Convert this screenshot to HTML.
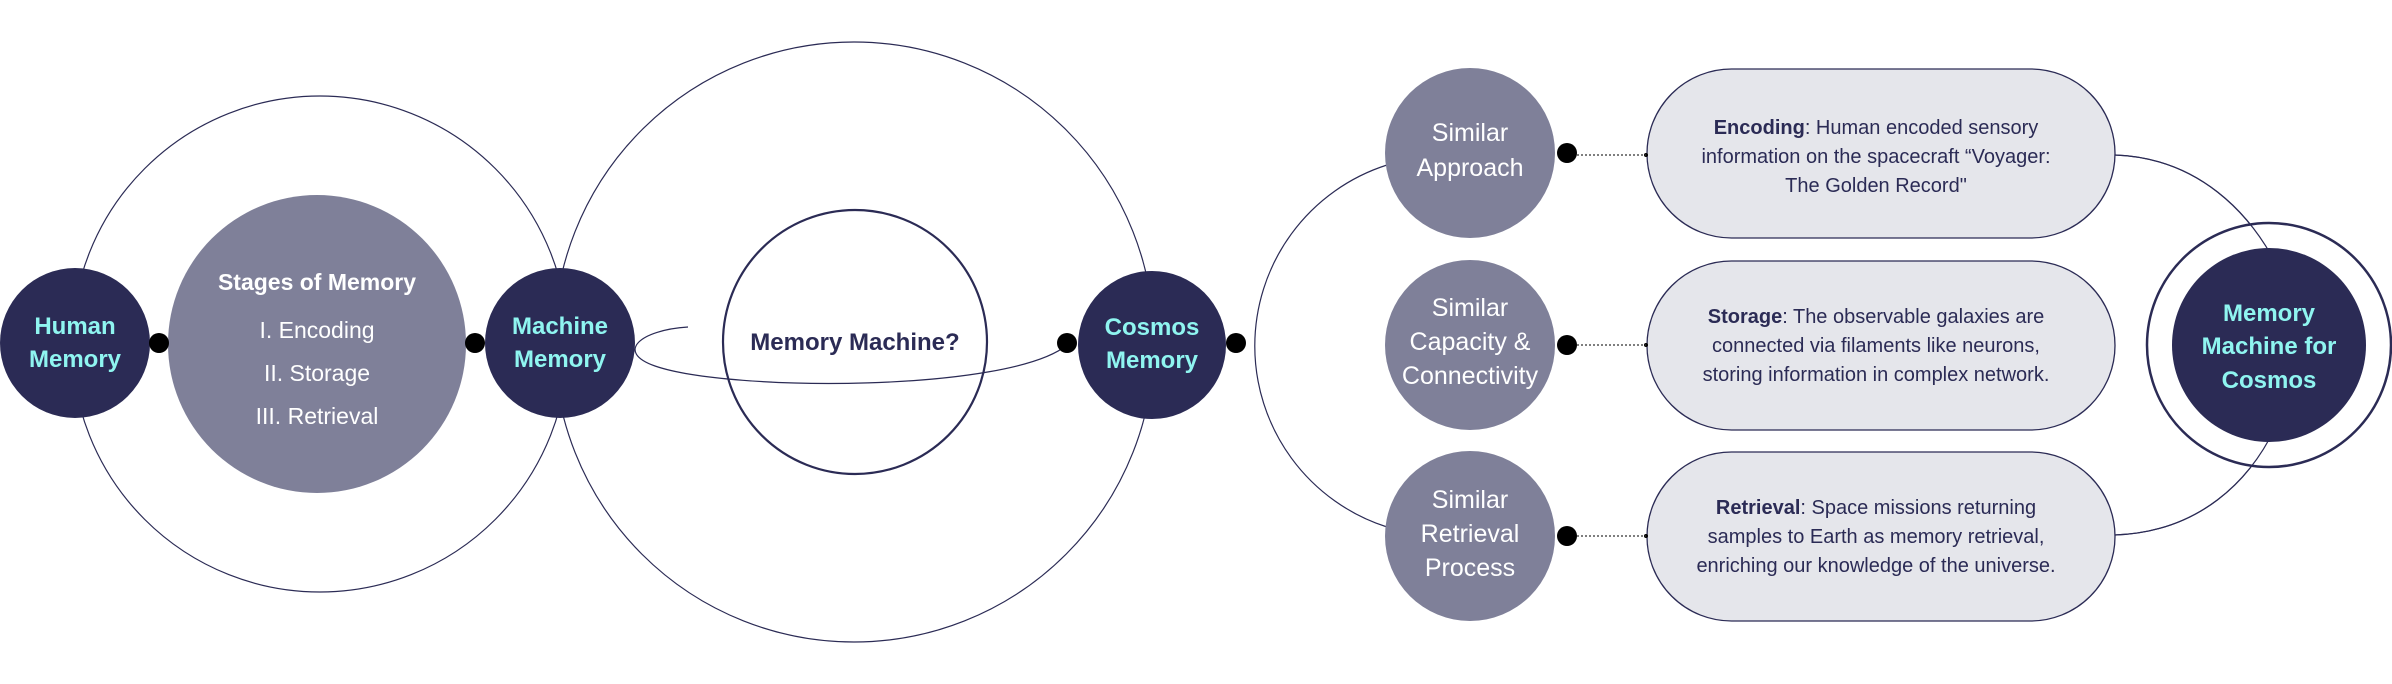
<!DOCTYPE html>
<html><head><meta charset="utf-8"><style>
html,body{margin:0;padding:0;background:#fff;}
svg{display:block;}
text{font-family:"Liberation Sans Narrow","Liberation Sans",sans-serif;}
</style></head><body>
<svg width="2392" height="684" viewBox="0 0 2392 684" xmlns="http://www.w3.org/2000/svg">
<g fill="none" stroke="#2b2b55" stroke-width="1.2">
<circle cx="320" cy="344" r="248"/>
<circle cx="854" cy="342" r="300"/>
<path d="M1387,165 A190,190 0 0 0 1387,527"/>
<path d="M688,327 C640,330 615,352 655,366 C730,392 1010,392 1067,345"/>
<path d="M2115,155 C2200,158 2250,215 2275,262"/>
<path d="M2115,535 C2200,532 2250,480 2275,428"/>
</g>
<circle cx="855" cy="342" r="132" fill="none" stroke="#2b2b55" stroke-width="2.2"/>
<circle cx="2269" cy="345" r="122" fill="#fff" stroke="#2b2b55" stroke-width="2.5"/>
<path d="M2115,155 C2200,158 2250,215 2275,262" fill="none" stroke="#2b2b55" stroke-width="1.2"/>
<path d="M2115,535 C2200,532 2250,480 2275,428" fill="none" stroke="#2b2b55" stroke-width="1.2"/>
<circle cx="317" cy="344" r="149" fill="#7f8099"/>
<g fill="#2b2b55">
<circle cx="75" cy="343" r="75"/>
<circle cx="560" cy="343" r="75"/>
<circle cx="1152" cy="345" r="74"/>
<circle cx="2269" cy="345" r="97"/>
</g>
<g fill="#7f8099">
<circle cx="1470" cy="153" r="85"/>
<circle cx="1470" cy="345" r="85"/>
<circle cx="1470" cy="536" r="85"/>
</g>
<g fill="#e5e6eb" stroke="#2b2b55" stroke-width="1.3">
<rect x="1647" y="69" width="468" height="169" rx="84.5"/>
<rect x="1647" y="261" width="468" height="169" rx="84.5"/>
<rect x="1647" y="452" width="468" height="169" rx="84.5"/>
</g>
<g fill="#000">
<circle cx="159" cy="343" r="10"/>
<circle cx="475" cy="343" r="10"/>
<circle cx="1067" cy="343" r="10"/>
<circle cx="1236" cy="343" r="10"/>
<circle cx="1567" cy="153" r="10"/>
<circle cx="1567" cy="345" r="10"/>
<circle cx="1567" cy="536" r="10"/>
<circle cx="1646" cy="155" r="2"/>
<circle cx="1646" cy="345" r="2"/>
<circle cx="1646" cy="536" r="2"/>
</g>
<g stroke="#333" stroke-width="1.2" stroke-dasharray="2,2">
<line x1="1577" y1="155" x2="1646" y2="155"/>
<line x1="1577" y1="345" x2="1646" y2="345"/>
<line x1="1577" y1="536" x2="1646" y2="536"/>
</g>
<g text-anchor="middle" font-size="24" font-weight="bold" fill="#8ff5f0">
<text x="75" y="334">Human</text><text x="75" y="367">Memory</text>
<text x="560" y="334">Machine</text><text x="560" y="367">Memory</text>
<text x="1152" y="335">Cosmos</text><text x="1152" y="368">Memory</text>
<text x="2269" y="321">Memory</text><text x="2269" y="354">Machine for</text><text x="2269" y="388">Cosmos</text>
</g>
<g text-anchor="middle" fill="#fff">
<text x="317" y="290" font-size="23" font-weight="bold">Stages of Memory</text>
<text x="317" y="338" font-size="23">I. Encoding</text>
<text x="317" y="381" font-size="23">II. Storage</text>
<text x="317" y="424" font-size="23">III. Retrieval</text>
<g font-size="25">
<text x="1470" y="141">Similar</text><text x="1470" y="176">Approach</text>
<text x="1470" y="316">Similar</text><text x="1470" y="350">Capacity &amp;</text><text x="1470" y="384">Connectivity</text>
<text x="1470" y="508">Similar</text><text x="1470" y="542">Retrieval</text><text x="1470" y="576">Process</text>
</g>
</g>
<text x="855" y="350" text-anchor="middle" font-size="24" font-weight="bold" fill="#2b2b55">Memory Machine?</text>
<g text-anchor="middle" font-size="20" fill="#2b2b55">
<text x="1876" y="134"><tspan font-weight="bold">Encoding</tspan>: Human encoded sensory</text>
<text x="1876" y="163">information on the spacecraft “Voyager:</text>
<text x="1876" y="192">The Golden Record"</text>
<text x="1876" y="323"><tspan font-weight="bold">Storage</tspan>:  The observable galaxies are</text>
<text x="1876" y="352">connected via filaments like neurons,</text>
<text x="1876" y="381">storing information in complex network.</text>
<text x="1876" y="514"><tspan font-weight="bold">Retrieval</tspan>: Space missions returning</text>
<text x="1876" y="543">samples to Earth as memory retrieval,</text>
<text x="1876" y="572">enriching our knowledge of the universe.</text>
</g>
</svg>
</body></html>
